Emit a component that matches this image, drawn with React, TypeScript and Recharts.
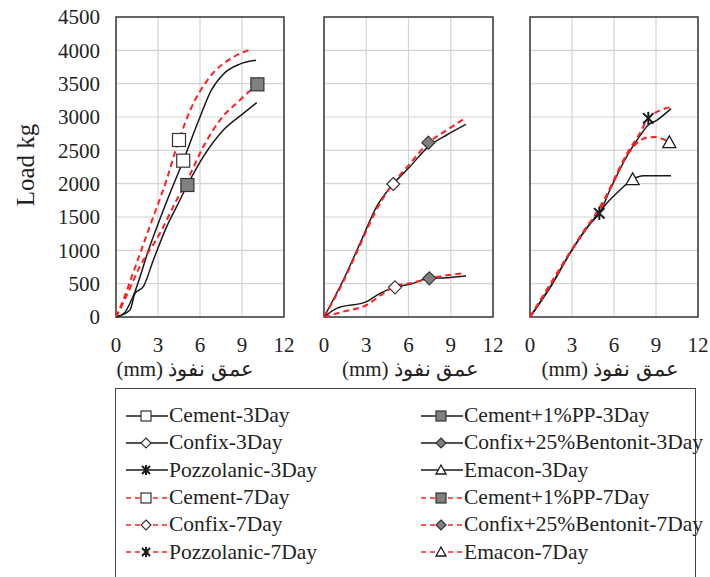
import React from 'react'
import { ComposedChart, Line, Scatter, XAxis, YAxis, CartesianGrid, ReferenceArea } from 'recharts'

type Pt = { x: number; y: number }
type Kind = 'square' | 'diamond' | 'star' | 'triangle'
type Mark = { x: number; y: number; kind: Kind; fill: string }

const xTicks = [0, 3, 6, 9, 12]
const yTicks = [0, 500, 1000, 1500, 2000, 2500, 3000, 3500, 4000, 4500]

// left panel: cement
const cement3Day = [[0, 0], [0.6, 60], [1.2, 300], [2.4, 1050], [3.6, 1720], [4.8, 2345], [6, 3000], [6.8, 3400], [7.7, 3650], [8.8, 3790], [10, 3850]]
const cement7Day = [[0, 0], [0.6, 300], [1.2, 650], [2.4, 1350], [3.6, 2050], [4.5, 2655], [5.3, 3100], [6.7, 3600], [8.4, 3900], [9.7, 4020]]
const cementPP3Day = [[0, 0], [1.0, 105], [1.36, 355], [1.95, 455], [2.67, 855], [3.62, 1355], [4.33, 1655], [5.1, 1980], [6.24, 2405], [7.67, 2805], [9.1, 3055], [10.05, 3215]]
const cementPP7Day = [[0, 0], [0.6, 250], [1.7, 755], [3.14, 1255], [4.33, 1755], [5.1, 2055], [6.24, 2555], [7.43, 2955], [8.86, 3255], [10.1, 3490]]

// middle panel: confix
const confixUpper3Day = [[0, 0], [1.37, 555], [2.56, 1105], [3.74, 1655], [4.92, 1995], [6.1, 2255], [7.41, 2555], [8.71, 2730], [10.08, 2890]]
const confixUpper7Day = [[0, 0], [1.3, 500], [2.5, 1050], [3.7, 1600], [4.9, 2000], [6.1, 2300], [7.4, 2610], [8.7, 2800], [9.9, 2965]]
const confixLower3Day = [[0, 0], [0.9, 130], [3.03, 230], [3.98, 355], [5.04, 445], [6.1, 490], [7.48, 580], [8.71, 590], [10.08, 615]]
const confixLower7Day = [[0, 0], [1.37, 80], [3.03, 180], [4.21, 355], [5.1, 470], [6.1, 505], [7.5, 580], [9.78, 655]]

// right panel: pozzolanic / emacon
const pozzolanic3Day = [[0, 0], [1.55, 480], [2.98, 1000], [4.29, 1400], [4.95, 1555], [5.71, 1905], [6.9, 2405], [7.86, 2720], [8.45, 2880], [9.05, 2950], [10.07, 3125]]
const pozzolanic7Day = [[0, 0], [1.55, 530], [2.98, 1010], [4.29, 1420], [4.95, 1580], [5.71, 1930], [6.9, 2440], [7.86, 2760], [8.45, 2980], [10.07, 3150]]
const emacon3Day = [[0, 0], [1.55, 490], [2.98, 1000], [4.29, 1400], [4.95, 1560], [5.48, 1705], [6.43, 1905], [7.33, 2065], [8.1, 2120], [10.07, 2120]]
const emacon7Day = [[0, 0], [1.55, 510], [2.98, 1005], [4.29, 1410], [5.71, 1920], [6.9, 2420], [7.62, 2605], [8.3, 2690], [8.9, 2700], [9.95, 2620]]

const marks1: Mark[] = [
  { x: 4.8, y: 2345, kind: 'square', fill: '#fff' },
  { x: 4.5, y: 2655, kind: 'square', fill: '#fff' },
  { x: 5.1, y: 1980, kind: 'square', fill: '#808080' },
  { x: 10.1, y: 3490, kind: 'square', fill: '#808080' },
]
const marks2: Mark[] = [
  { x: 4.92, y: 1995, kind: 'diamond', fill: '#fff' },
  { x: 7.41, y: 2615, kind: 'diamond', fill: '#808080' },
  { x: 5.04, y: 445, kind: 'diamond', fill: '#fff' },
  { x: 7.48, y: 580, kind: 'diamond', fill: '#808080' },
]
const marks3: Mark[] = [
  { x: 4.95, y: 1555, kind: 'star', fill: '#000' },
  { x: 8.45, y: 2980, kind: 'star', fill: '#000' },
  { x: 7.33, y: 2065, kind: 'triangle', fill: '#fff' },
  { x: 9.95, y: 2620, kind: 'triangle', fill: '#fff' },
]

const legendItems = [
  { name: 'Cement-3Day', kind: 'square', fill: '#fff', dashed: false },
  { name: 'Cement+1%PP-3Day', kind: 'square', fill: '#808080', dashed: false },
  { name: 'Confix-3Day', kind: 'diamond', fill: '#fff', dashed: false },
  { name: 'Confix+25%Bentonit-3Day', kind: 'diamond', fill: '#808080', dashed: false },
  { name: 'Pozzolanic-3Day', kind: 'star', fill: '#000', dashed: false },
  { name: 'Emacon-3Day', kind: 'triangle', fill: '#fff', dashed: false },
  { name: 'Cement-7Day', kind: 'square', fill: '#fff', dashed: true },
  { name: 'Cement+1%PP-7Day', kind: 'square', fill: '#808080', dashed: true },
  { name: 'Confix-7Day', kind: 'diamond', fill: '#fff', dashed: true },
  { name: 'Confix+25%Bentonit-7Day', kind: 'diamond', fill: '#808080', dashed: true },
  { name: 'Pozzolanic-7Day', kind: 'star', fill: '#000', dashed: true },
  { name: 'Emacon-7Day', kind: 'triangle', fill: '#fff', dashed: true },
]

const toPts = (a: number[][]): Pt[] => a.map(([x, y]) => ({ x, y }))
const FONT = "'Liberation Serif', 'Times New Roman', Times, serif"
const RED = '#ff1f1f'
const BLACK = '#1a1a1a'

function markerEl(kind: string, cx: number, cy: number, fill: string, s: number) {
  const stroke = '#333'
  if (kind === 'square') {
    return <rect x={cx - s} y={cy - s} width={2 * s} height={2 * s} fill={fill} stroke={stroke} strokeWidth={1.2} />
  }
  if (kind === 'diamond') {
    return <path d={`M${cx},${cy - s}L${cx + s},${cy}L${cx},${cy + s}L${cx - s},${cy}Z`} fill={fill} stroke={stroke} strokeWidth={1.2} />
  }
  if (kind === 'triangle') {
    return <path d={`M${cx},${cy - s}L${cx + s},${cy + s * 0.8}L${cx - s},${cy + s * 0.8}Z`} fill={fill} stroke={BLACK} strokeWidth={1.3} />
  }
  const d = s * 0.8
  return (
    <g stroke={BLACK} strokeWidth={2}>
      <line x1={cx} y1={cy - s} x2={cx} y2={cy + s} />
      <line x1={cx - d} y1={cy - d} x2={cx + d} y2={cy + d} />
      <line x1={cx - d} y1={cy + d} x2={cx + d} y2={cy - d} />
    </g>
  )
}

const MarkShape = (props: any) => {
  const { cx, cy, payload } = props
  if (cx == null || cy == null) return <g />
  return markerEl(payload.kind, cx, cy, payload.fill, 6.5)
}

type Series = { data: number[][]; red: boolean }

type PanelProps = {
  left: number
  width: number
  marginLeft: number
  marginRight: number
  showY: boolean
  series: Series[]
  marks: Mark[]
  titleDx: number
}

function Panel({ left, width, marginLeft, marginRight, showY, series, marks, titleDx }: PanelProps) {
  const tickStyle = { fill: '#222', fontSize: 21, fontFamily: FONT }
  return (
    <div style={{ position: 'absolute', left, top: 0 }}>
      <ComposedChart width={width} height={382} margin={{ top: 17, right: marginRight, bottom: 0, left: marginLeft }}>
        <CartesianGrid stroke="#d4d4d4" strokeWidth={1.2} horizontalValues={yTicks} verticalValues={xTicks} />
        <XAxis
          type="number"
          dataKey="x"
          domain={[0, 12]}
          ticks={xTicks}
          allowDataOverflow
          height={65}
          axisLine={false}
          tickLine={false}
          tickSize={0}
          tickMargin={20}
          tick={tickStyle}
          interval={0}
          label={{ value: '(mm) عمق نفوذ', position: 'insideBottom', offset: 6, dx: titleDx, style: { fill: '#222', fontSize: 21, fontFamily: FONT } }}
        />
        <YAxis
          type="number"
          dataKey="y"
          domain={[0, 4500]}
          ticks={yTicks}
          hide={!showY}
          width={116}
          axisLine={false}
          tickLine={false}
          tickSize={0}
          tickMargin={16}
          tick={tickStyle}
          interval={0}
        />
        <ReferenceArea x1={0} x2={12} y1={0} y2={4500} fill="none" stroke="#3a3a3a" strokeWidth={1.5} />
        {series.map((s, i) => (
          <Line
            key={i}
            data={toPts(s.data)}
            dataKey="y"
            type="monotone"
            stroke={s.red ? RED : BLACK}
            strokeWidth={s.red ? 2 : 1.5}
            strokeDasharray={s.red ? '6 4' : undefined}
            dot={false}
            activeDot={false}
            isAnimationActive={false}
          />
        ))}
        <Scatter data={marks} dataKey="y" shape={MarkShape} isAnimationActive={false} />
      </ComposedChart>
    </div>
  )
}

function LegendRow({ item }: { item: (typeof legendItems)[number] }) {
  return (
    <div style={{ display: 'flex', alignItems: 'center', height: 27.3 }}>
      <svg width={43} height={20} style={{ flex: 'none' }}>
        <line x1={0} y1={10} x2={42} y2={10} stroke={item.dashed ? RED : BLACK} strokeWidth={1.5} strokeDasharray={item.dashed ? '5 4' : undefined} />
        {markerEl(item.kind, 20, 10, item.fill, 5)}
      </svg>
      <span style={{ whiteSpace: 'nowrap' }}>{item.name}</span>
    </div>
  )
}

export default function App() {
  return (
    <div style={{ position: 'absolute', left: 0, top: 0, width: 710, height: 577, overflow: 'hidden', background: '#fff' }}>
      <svg style={{ position: 'absolute', left: 0, top: 0 }} width={60} height={330}>
        <text x={34} y={165} transform="rotate(-90 34 165)" textAnchor="middle" fontSize={25} fontFamily={FONT} fill="#222">
          Load kg
        </text>
      </svg>
      <Panel
        left={0}
        width={300}
        marginLeft={0}
        marginRight={16}
        showY
        series={[
          { data: cement3Day, red: false },
          { data: cement7Day, red: true },
          { data: cementPP3Day, red: false },
          { data: cementPP7Day, red: true },
        ]}
        marks={marks1}
        titleDx={-15}
      />
      <Panel
        left={310}
        width={200}
        marginLeft={14}
        marginRight={17}
        showY={false}
        series={[
          { data: confixUpper3Day, red: false },
          { data: confixUpper7Day, red: true },
          { data: confixLower3Day, red: false },
          { data: confixLower7Day, red: true },
        ]}
        marks={marks2}
        titleDx={2}
      />
      <Panel
        left={516}
        width={194}
        marginLeft={14}
        marginRight={12}
        showY={false}
        series={[
          { data: pozzolanic3Day, red: false },
          { data: pozzolanic7Day, red: true },
          { data: emacon3Day, red: false },
          { data: emacon7Day, red: true },
        ]}
        marks={marks3}
        titleDx={-4}
      />
      <div
        style={{
          position: 'absolute',
          left: 115,
          top: 388,
          width: 581,
          height: 220,
          border: '1.5px solid #444',
          boxSizing: 'border-box',
          fontFamily: FONT,
          fontSize: 21.5,
          color: '#222',
          paddingTop: 13,
        }}
      >
        <div style={{ display: 'grid', gridTemplateColumns: '295px 285px' }}>
          {legendItems.map((it) => (
            <div key={it.name} style={{ paddingLeft: 10 }}>
              <LegendRow item={it} />
            </div>
          ))}
        </div>
      </div>
    </div>
  )
}
